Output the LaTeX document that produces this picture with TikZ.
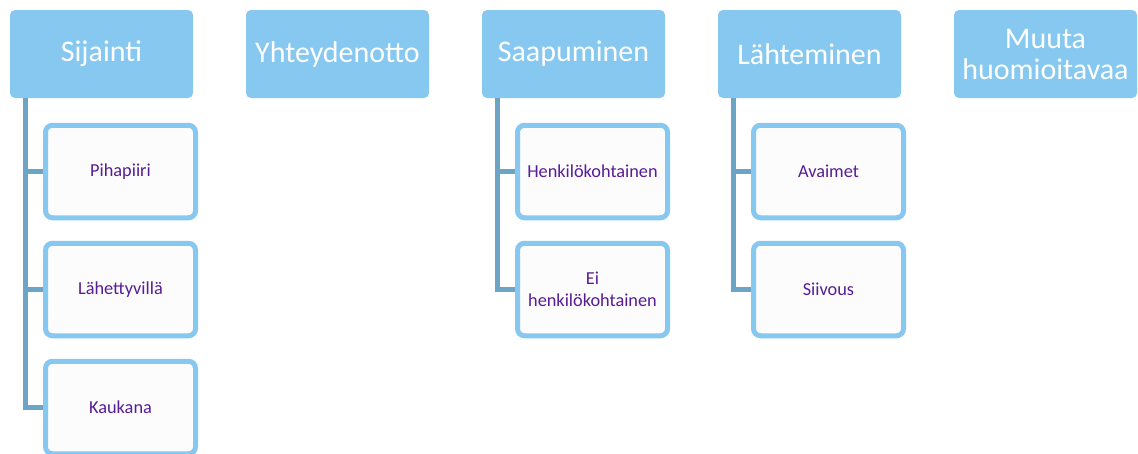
\documentclass[tikz,border=0pt]{standalone}
\usepackage{fontspec}
\setmainfont{Carlito}
\definecolor{headfill}{HTML}{86C8F0}
\definecolor{itemborder}{HTML}{86C8F0}
\definecolor{itemfill}{HTML}{FCFCFD}
\definecolor{itemtext}{HTML}{581C94}
\definecolor{branchline}{HTML}{6CA4C6}
\tikzset{
  head/.style={draw=none, fill=headfill, rounded corners=5pt, minimum width=183pt, minimum height=88pt,
    text=white, align=center, inner sep=2pt, font=\fontsize{30}{31}\selectfont},
  item/.style={draw=itemborder, line width=5pt, fill=itemfill, rounded corners=7pt, minimum width=150pt,
    minimum height=92.5pt, text=itemtext, align=center, inner sep=2pt, font=\fontsize{18.3}{22}\selectfont},
  branch/.style={draw=branchline, line width=5pt}
}
\begin{document}
\begin{tikzpicture}[x=1pt, y=-1pt]
\useasboundingbox (0,0) rectangle (1138,453);

% category headers
\node[head] (sij) at (101.5,54) {Sijainti};
\node[head] (yht) at (337.5,54) {Yhteydenotto};
\node[head] (saa) at (573.5,54) {Saapuminen};
\node[head] (lah) at (809.5,54) {Lähteminen};
\node[head] (muu) at (1045.5,54) {Muuta\\huomioitavaa};

% sub-items
\node[item] (pih) at (120.5,171.5) {Pihapiiri};
\node[item] (lhv) at (120.5,289.5) {Lähettyvillä};
\node[item] (kau) at (120.5,407.5) {Kaukana};
\node[item] (hen) at (592.5,171.5) {Henkilökohtainen};
\node[item] (eih) at (592.5,289.5) {Ei\\henkilökohtainen};
\node[item] (ava) at (828.5,171.5) {Avaimet};
\node[item] (sii) at (828.5,289.5) {Siivous};

% tree branches
\draw[branch] ([xshift=15.5pt]sij.south west) |- (kau.west);
\draw[branch] ([xshift=15.5pt]sij.south west) |- (lhv.west);
\draw[branch] ([xshift=15.5pt]sij.south west) |- (pih.west);
\draw[branch] ([xshift=15.5pt]saa.south west) |- (eih.west);
\draw[branch] ([xshift=15.5pt]saa.south west) |- (hen.west);
\draw[branch] ([xshift=15.5pt]lah.south west) |- (sii.west);
\draw[branch] ([xshift=15.5pt]lah.south west) |- (ava.west);
\end{tikzpicture}
\end{document}
